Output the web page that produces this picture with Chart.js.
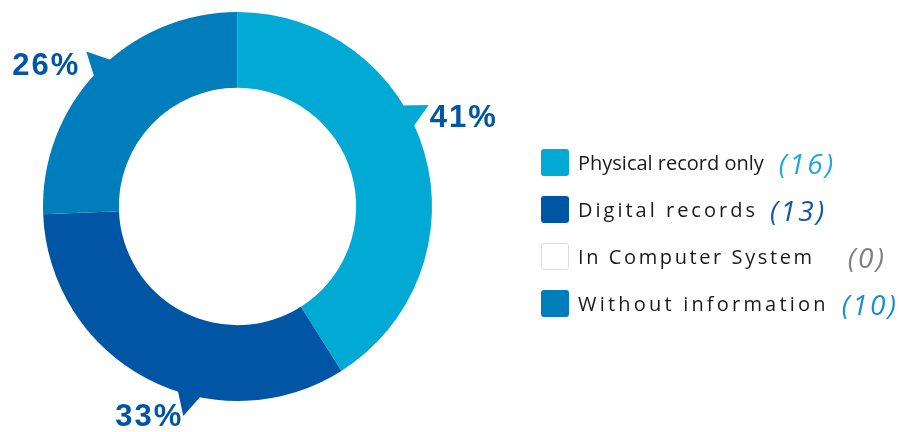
<!DOCTYPE html>
<html>
<head>
<meta charset="utf-8">
<script src="https://cdn.jsdelivr.net/npm/chart.js@4.4.0/dist/chart.umd.min.js"></script>
<style>
  html, body { margin: 0; background: #fff; }
  #wrap   { position: relative; width: 914px; height: 432px; }
  #legend { position: absolute; left: 541px; top: 139px; font-family: 'Open Sans', sans-serif; }
  .row    { display: flex; align-items: center; height: 47px; white-space: nowrap; }
  .swatch { width: 28px; height: 27px; border-radius: 3px; box-sizing: border-box; margin-right: 9px; }
  .name   { font-size: 20px; color: #1a1a1a; }
  .count  { font-size: 28px; font-style: italic; letter-spacing: 2.5px; }
</style>
</head>
<body>
<div id="wrap">
  <canvas id="donut" width="914" height="432"></canvas>
  <div id="legend"></div>
</div>
<script>
// ── Data ────────────────────────────────────
const categories  = ['Physical record only', 'Digital records', 'In Computer System', 'Without information'];
const counts      = [16, 13, 0, 10];
const sliceColors = ['#00AAD4', '#0055A5', '#FFFFFF', '#007DBB'];
const countColors = ['#22A7DB', '#1457A6', '#7F7F7F', '#1C8DCD'];

// ── Legend / label styling ──────────────────
const nameSpacing = [0, 3, 2.6, 3.2];
const countGap    = [15, 12, 33, 13];
const calloutAt   = [0.42, 0.39, 0.5, 0.52];      // where along each slice the pointer sits
const labelShift  = [[1, 13, 'left'], [0, 1, 'right'], [0, 0, 'right'], [-6, 15, 'right']];

const total = counts.reduce((a, b) => a + b, 0);

// ── Pointer + percentage label for every slice ──
const callouts = {
  id: 'callouts',
  afterDatasetsDraw(chart) {
    const ctx  = chart.ctx;
    const arcs = chart.getDatasetMeta(0).data;
    arcs.forEach((arc, i) => {
      if (!counts[i]) return;
      const { x, y, startAngle, endAngle, outerRadius } =
        arc.getProps(['x', 'y', 'startAngle', 'endAngle', 'outerRadius'], true);
      const a  = startAngle + calloutAt[i] * (endAngle - startAngle);
      const da = 13 / outerRadius;
      const r0 = outerRadius - 3;
      const r1 = outerRadius + 22;

      ctx.save();
      ctx.fillStyle = sliceColors[i];
      ctx.beginPath();
      ctx.moveTo(x + r0 * Math.cos(a - da), y + r0 * Math.sin(a - da));
      ctx.lineTo(x + r1 * Math.cos(a), y + r1 * Math.sin(a));
      ctx.lineTo(x + r0 * Math.cos(a + da), y + r0 * Math.sin(a + da));
      ctx.closePath();
      ctx.fill();

      const tx = x + r1 * Math.cos(a);
      const ty = y + r1 * Math.sin(a);
      const [dx, dy, align] = labelShift[i];
      ctx.fillStyle    = '#0055A5';
      ctx.font         = 'bold 31px "Liberation Sans", Arial, sans-serif';
      ctx.letterSpacing = '2px';
      ctx.textAlign    = align;
      ctx.textBaseline = 'middle';
      ctx.fillText(Math.round(counts[i] / total * 100) + '%', tx + dx, ty + dy);
      ctx.restore();
    });
  }
};

new Chart(document.getElementById('donut'), {
  type: 'doughnut',
  data: {
    labels: categories,
    datasets: [{
      data:            counts,
      backgroundColor: sliceColors,
      borderWidth:     0,
      hoverOffset:     0
    }]
  },
  options: {
    responsive: false,
    animation:  false,
    cutout:     '61%',
    layout:     { padding: { left: 0, right: 439, top: 12, bottom: 31 } },
    plugins: {
      legend:  { display: false },
      tooltip: { enabled: false }
    }
  },
  plugins: [callouts]
});

// ── HTML legend ─────────────────────────────
const legend = document.getElementById('legend');
categories.forEach((name, i) => {
  const row = document.createElement('div');
  row.className = 'row';

  const sw = document.createElement('span');
  sw.className = 'swatch';
  sw.style.background = sliceColors[i];
  if (!counts[i]) sw.style.border = '1px solid #ddd';

  const label = document.createElement('span');
  label.className = 'name';
  label.style.letterSpacing = nameSpacing[i] + 'px';
  label.textContent = name;

  const count = document.createElement('span');
  count.className = 'count';
  count.style.color = countColors[i];
  count.style.marginLeft = countGap[i] + 'px';
  count.textContent = '(' + counts[i] + ')';

  row.append(sw, label, count);
  legend.appendChild(row);
});
</script>
</body>
</html>
